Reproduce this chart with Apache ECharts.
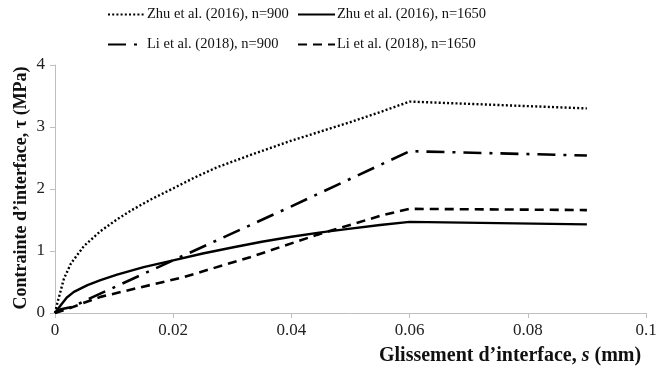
<!DOCTYPE html>
<html><head><meta charset="utf-8">
<script src="https://cdn.jsdelivr.net/npm/echarts@6/dist/echarts.min.js"></script>
<style>html,body{margin:0;padding:0;background:#fff}#c{width:660px;height:372px}</style>
</head><body><div id="c"></div>
<script>
const seriesNames = ['Zhu et al. (2016), n=900', 'Zhu et al. (2016), n=1650', 'Li et al. (2018), n=900', 'Li et al. (2018), n=1650'];
const zhu900 = [[0,0],[0.0004,0.16],[0.0015,0.55],[0.0027,0.8],[0.0049,1.08],[0.0077,1.32],[0.0105,1.51],[0.013,1.66],[0.0162,1.83],[0.02,2.01],[0.0235,2.18],[0.0274,2.35],[0.034,2.58],[0.04,2.78],[0.045,2.93],[0.05,3.08],[0.055,3.24],[0.06,3.41],[0.09,3.30]];
const zhu1650 = [[0,0],[0.001,0.13],[0.002,0.25],[0.0032,0.34],[0.0055,0.45],[0.0077,0.53],[0.0105,0.62],[0.015,0.74],[0.02,0.85],[0.025,0.96],[0.0302,1.06],[0.035,1.15],[0.04,1.23],[0.045,1.3],[0.05,1.36],[0.055,1.42],[0.06,1.47],[0.09,1.43]];
const li900 = [[0,0],[0.001,0.06],[0.003,0.1],[0.006,0.24],[0.02,0.85],[0.04,1.72],[0.06,2.61],[0.09,2.54]];
const li1650 = [[0,0],[0.002,0.06],[0.0045,0.15],[0.0077,0.26],[0.0218,0.58],[0.033,0.9],[0.0443,1.26],[0.0555,1.58],[0.06,1.68],[0.09,1.66]];
const xTicks = {min: 0, max: 0.1, interval: 0.02};
const yTicks = {min: 0, max: 4, interval: 1};

const serif = '"Liberation Serif", "DejaVu Serif", serif';
const chart = echarts.init(document.getElementById('c'), null, {renderer: 'canvas'});
const styles = [
  {type: [2, 2.2], width: 2.4},
  {type: 'solid', width: 2.4},
  {type: [18, 8, 3, 8], width: 2.6},
  {type: [9, 6], width: 2.6}
];
const datas = [zhu900, zhu1650, li900, li1650];
const legendPos = [[102, 2], [292, 2], [102, 32], [292, 32]];
chart.setOption({
  animation: false,
  grid: {left: 55, right: 14, top: 65, bottom: 59},
  legend: seriesNames.map((n, i) => ({
    data: [n], left: legendPos[i][0], top: legendPos[i][1],
    itemWidth: 37, itemHeight: 14, itemGap: 4,
    itemStyle: {opacity: 0},
    textStyle: {fontFamily: serif, fontSize: 14.5, color: '#111', padding: [0, 0, 0, -3]}
  })),
  xAxis: {
    type: 'value', min: xTicks.min, max: xTicks.max, interval: xTicks.interval,
    axisLine: {lineStyle: {color: '#bfbfbf', width: 1}},
    axisTick: {show: true, inside: false, length: 5, lineStyle: {color: '#bfbfbf'}},
    splitLine: {show: false},
    axisLabel: {fontFamily: serif, fontSize: 17, color: '#222', margin: 9,
      formatter: v => String(+v.toFixed(2))}
  },
  yAxis: {
    type: 'value', min: yTicks.min, max: yTicks.max, interval: yTicks.interval,
    axisLine: {show: true, lineStyle: {color: '#bfbfbf', width: 1}},
    axisTick: {show: true, inside: false, length: 5, lineStyle: {color: '#bfbfbf'}},
    splitLine: {show: false},
    axisLabel: {fontFamily: serif, fontSize: 17, color: '#222', margin: 10}
  },
  graphic: [{
    type: 'text', left: 379, top: 346,
    style: {
      text: '{b|Glissement d\u2019interface, }{bi|s}{b| (mm)}',
      rich: {
        b: {fontFamily: serif, fontSize: 20, fontWeight: 'bold', fill: '#111'},
        bi: {fontFamily: serif, fontSize: 20, fontWeight: 'bold', fontStyle: 'italic', fill: '#111'}
      }
    }
  }, {
    type: 'text', x: 21, y: 188, rotation: Math.PI / 2,
    style: {
      text: '{b|Contrainte d\u2019interface, \u03c4 (MPa)}',
      align: 'center', verticalAlign: 'middle',
      rich: {
        b: {fontFamily: serif, fontSize: 18, fontWeight: 'bold', fill: '#111'}
      }
    }
  }],
  series: datas.map((d, i) => ({
    name: seriesNames[i], type: 'line', data: d, symbol: 'none', showSymbol: false, smooth: false,
    color: '#000',
    lineStyle: {color: '#000', width: styles[i].width, type: styles[i].type}
  }))
});
</script></body></html>
